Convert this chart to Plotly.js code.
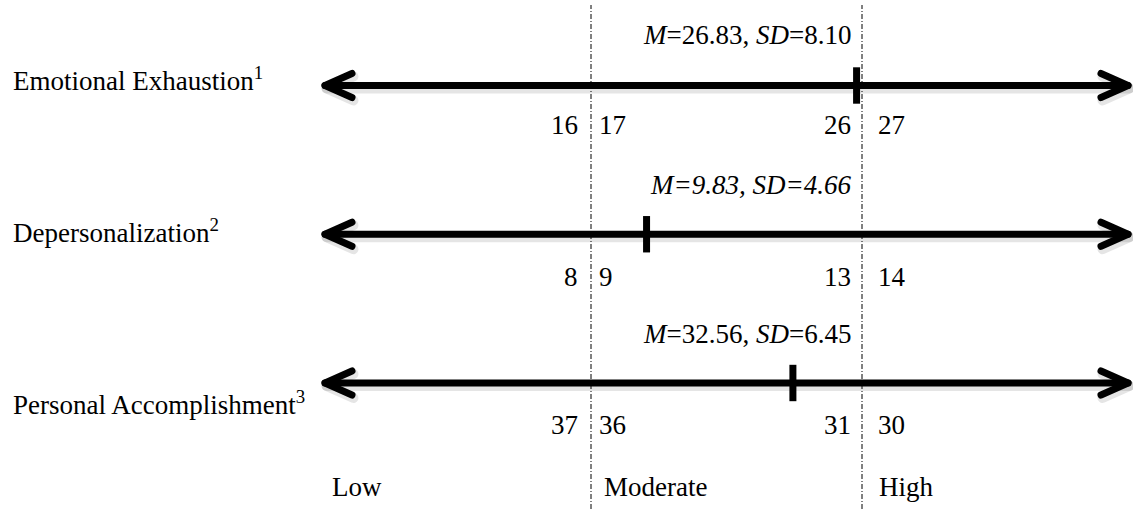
<!DOCTYPE html>
<html>
<head>
<meta charset="utf-8">
<script src="https://cdn.plot.ly/plotly-3.0.1.min.js"></script>
<style>html,body{margin:0;padding:0;background:#fff;}#chart{width:1133px;height:509px;}</style>
</head>
<body>
<div id="chart"></div>
<script>
// ---- data ----
const scales = ['Emotional Exhaustion<sup>1</sup>', 'Depersonalization<sup>2</sup>', 'Personal Accomplishment<sup>3</sup>'];
const meanLabels = ['<i>M</i>=26.83, <i>SD</i>=8.10', '<i>M=9.83, SD=4.66</i>', '<i>M</i>=32.56, <i>SD</i>=6.45'];
// position of the mean marker on the Low(0-1) / Moderate(1-2) / High(2-3) band scale
const meanPos = [1.98, 1.205, 1.745];
const lowEnd = ['16', '8', '37'];
const modStart = ['17', '9', '36'];
const modEnd = ['26', '13', '31'];
const highStart = ['27', '14', '30'];
const bands = ['Low', 'Moderate', 'High'];
const bandEdges = [0, 1, 2, 3];

const FONT = '"Liberation Serif", "Times New Roman", Times, serif';
const FS = 27;
const rowIdx = scales.map((_, i) => i);

// pixel scale of the axes
const ux = 271, x0px = 320;
const uy = 148.75, y0px = 85.5;
// arrow geometry in px -> axis units
const capInset = 5 / ux;
const headDX = 27 / ux, headDY = 12 / uy;

// per-row vertical offsets (px) of the texts
const labelShift = [6.5, 3, -19.5];
const meanShift = [51, 49, 49];
const numShift = [-39, -43, -42];

const annotations = [];
const txt = (o) => Object.assign({showarrow: false, font: {family: FONT, size: FS, color: '#000'}, xref: 'x', yref: 'y', yanchor: 'middle'}, o);

rowIdx.forEach(i => {
  annotations.push(txt({text: scales[i], xref: 'paper', x: 11 / 1133, xanchor: 'left', y: i, yshift: labelShift[i]}));
  annotations.push(txt({text: meanLabels[i], x: bandEdges[2], xanchor: 'right', xshift: -9, y: i, yshift: meanShift[i]}));
  annotations.push(txt({text: lowEnd[i], x: bandEdges[1], xanchor: 'right', xshift: -11, y: i, yshift: numShift[i]}));
  annotations.push(txt({text: modStart[i], x: bandEdges[1], xanchor: 'left', xshift: 6, y: i, yshift: numShift[i]}));
  annotations.push(txt({text: modEnd[i], x: bandEdges[2], xanchor: 'right', xshift: -9, y: i, yshift: numShift[i]}));
  annotations.push(txt({text: highStart[i], x: bandEdges[2], xanchor: 'left', xshift: 14, y: i, yshift: numShift[i]}));
});
bands.forEach((b, k) => {
  annotations.push(txt({text: b, x: bandEdges[k], xanchor: 'left', xshift: [10, 11, 15][k], yref: 'paper', y: 1 - 487 / 509}));
});

const shapes = [bandEdges[1], bandEdges[2]].map(v => ({
  type: 'line', xref: 'x', yref: 'paper', x0: v, x1: v, y0: 0, y1: 1 - 5 / 509,
  line: {color: '#000', width: 1, dash: '5px,2px,1px,2px'}
}));

// double headed arrows built from the scale ends
function arrowPath(shiftX, shiftY) {
  const xs = [], ys = [];
  const a = bandEdges[0] + capInset, b = bandEdges[3] - capInset;
  rowIdx.forEach(i => {
    const y = i + shiftY;
    xs.push(a + shiftX, b + shiftX, null); ys.push(y, y, null);
    xs.push(a + headDX + shiftX, a + shiftX, a + headDX + shiftX, null); ys.push(y - headDY, y, y + headDY, null);
    xs.push(b - headDX + shiftX, b + shiftX, b - headDX + shiftX, null); ys.push(y - headDY, y, y + headDY, null);
  });
  return {xs, ys};
}
const shadow = arrowPath(1.5 / ux, 3 / uy);
const main = arrowPath(0, 0);

const traces = [
  {type: 'scatter', mode: 'lines', x: shadow.xs, y: shadow.ys, connectgaps: false,
   line: {color: 'rgba(0,0,0,0.10)', width: 10}, hoverinfo: 'skip', cliponaxis: false},
  {type: 'scatter', mode: 'lines', x: main.xs, y: main.ys, connectgaps: false,
   line: {color: '#000', width: 7}, hoverinfo: 'skip', cliponaxis: false},
  {type: 'scatter', mode: 'markers', x: meanPos, y: rowIdx,
   marker: {symbol: 'line-ns', size: 26, color: '#000', line: {width: 7, color: '#000'}},
   hoverinfo: 'skip', cliponaxis: false}
];

const layout = {
  width: 1133, height: 509,
  margin: {l: 0, r: 0, t: 0, b: 0},
  paper_bgcolor: '#fff', plot_bgcolor: '#fff',
  showlegend: false,
  font: {family: FONT},
  xaxis: {range: [-x0px / ux, (1133 - x0px) / ux], visible: false, fixedrange: true},
  yaxis: {range: [(509 - y0px) / uy, -y0px / uy], visible: false, fixedrange: true},
  annotations: annotations,
  shapes: shapes
};

Plotly.newPlot('chart', traces, layout, {staticPlot: true, displayModeBar: false}).then(() => {
  document.querySelectorAll('.scatterlayer path.js-line').forEach(p => {
    p.style.strokeLinecap = 'round';
    p.style.strokeLinejoin = 'round';
  });
});
</script>
</body>
</html>
